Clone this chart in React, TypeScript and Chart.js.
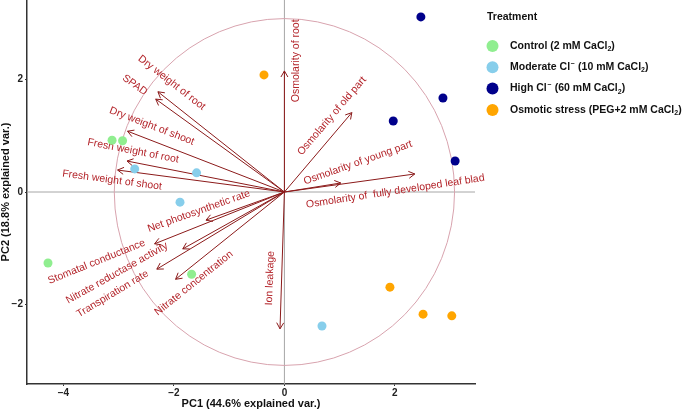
import React, { useEffect, useRef } from "react";
import { Chart, registerables } from "chart.js";

Chart.register(...registerables);

// ---------------- Data ----------------
const treatments = [
  "Control (2 mM CaCl₂)",
  "Moderate Cl⁻ (10 mM CaCl₂)",
  "High Cl⁻ (60 mM CaCl₂)",
  "Osmotic stress (PEG+2 mM CaCl₂)",
];
const treatmentColors = ["#90EE90", "#87CEEB", "#00008B", "#FFA500"];

const controlX = [-3.12, -2.93, -4.28, -1.68];
const controlY = [0.92, 0.91, -1.26, -1.46];
const moderateX = [-2.71, -1.59, -1.89, 0.68];
const moderateY = [0.41, 0.34, -0.18, -2.38];
const highX = [2.47, 2.87, 1.97, 3.09];
const highY = [3.11, 1.67, 1.26, 0.55];
const osmoticX = [-0.37, 1.91, 2.51, 3.03];
const osmoticY = [2.08, -1.69, -2.17, -2.2];

const varNames = [
  "Dry weight of root",
  "SPAD",
  "Dry weight of shoot",
  "Fresh weight of root",
  "Fresh weight of shoot",
  "Net photosynthetic rate",
  "Stomatal conductance",
  "Nitrate reductase activity",
  "Transpiration rate",
  "Nitrate concentration",
  "Ion leakage",
  "Osmolarity of root",
  "Osmolarity of old part",
  "Osmolarity of young part",
  "Osmolarity of  fully developed leaf blade",
];
const varX = [-2.29, -2.33, -2.84, -2.85, -3.02, -1.42, -2.35, -1.84, -2.31, -1.97, -0.08, 0.0, 1.22, 2.36, 1.02];
const varY = [1.78, 1.65, 1.08, 0.55, 0.39, -0.5, -0.92, -1.01, -1.37, -1.55, -2.43, 2.15, 1.41, 0.32, 0.16];

const xTicks = [-4, -2, 0, 2];
const yTicks = [-2, 0, 2];
const xTitle = "PC1 (44.6% explained var.)";
const yTitle = "PC2 (18.8% explained var.)";
const legendTitle = "Treatment";
const circleRadius = 3.08;

// ---------------- Layout (label placement, data units + rotation deg) ----------------
const labelLayout = [
  { x: -2.04, y: 1.94, a: 38 },
  { x: -2.71, y: 1.9, a: 36 },
  { x: -2.4, y: 1.17, a: 21 },
  { x: -2.74, y: 0.73, a: 11 },
  { x: -3.12, y: 0.21, a: 7.5 },
  { x: -1.55, y: -0.34, a: -19.6 },
  { x: -3.4, y: -1.24, a: -21.9 },
  { x: -3.03, y: -1.44, a: -29.3 },
  { x: -3.11, y: -1.81, a: -31 },
  { x: -1.64, y: -1.62, a: -38.7 },
  { x: -0.26, y: -1.53, a: -88 },
  { x: 0.21, y: 2.33, a: -90 },
  { x: 0.86, y: 1.35, a: -49.5 },
  { x: 1.33, y: 0.52, a: -19.5 },
  { x: 2.06, y: 0.02, a: -8.6 },
];

const FONT = "'Liberation Sans', Arial, Helvetica, sans-serif";
const fmt = (v: number) => (v < 0 ? "\u2212" + Math.abs(v) : String(v));

function drawRich(ctx: CanvasRenderingContext2D, text: string, x: number, y: number, size: number) {
  const normal = `bold ${size}px ${FONT}`;
  const small = `bold ${Math.round(size * 0.68)}px ${FONT}`;
  let cx = x;
  let buf = "";
  const flush = () => {
    if (!buf) return;
    ctx.font = normal;
    ctx.fillText(buf, cx, y);
    cx += ctx.measureText(buf).width;
    buf = "";
  };
  for (const ch of text) {
    if (ch === "₂") {
      flush();
      ctx.font = small;
      ctx.fillText("2", cx, y + 3);
      cx += ctx.measureText("2").width;
    } else if (ch === "⁻") {
      flush();
      ctx.font = small;
      ctx.fillText("\u2212", cx + 0.5, y - 3.5);
      cx += ctx.measureText("\u2212").width + 1;
    } else {
      buf += ch;
    }
  }
  flush();
}

const biplotPlugin = {
  id: "biplot",
  beforeDatasetsDraw(chart: any) {
    const { ctx, chartArea, scales } = chart;
    const xs = scales.x;
    const ys = scales.y;
    const x0 = xs.getPixelForValue(0);
    const y0 = ys.getPixelForValue(0);
    ctx.save();
    ctx.beginPath();
    ctx.rect(chartArea.left, chartArea.top, chartArea.right - chartArea.left, chartArea.bottom - chartArea.top);
    ctx.clip();

    // zero lines
    ctx.strokeStyle = "#a6a6a6";
    ctx.lineWidth = 1;
    ctx.beginPath();
    ctx.moveTo(x0, chartArea.top);
    ctx.lineTo(x0, chartArea.bottom);
    ctx.moveTo(chartArea.left, y0);
    ctx.lineTo(chartArea.right, y0);
    ctx.stroke();

    // correlation circle
    const rx = Math.abs(xs.getPixelForValue(circleRadius) - x0);
    const ry = Math.abs(ys.getPixelForValue(circleRadius) - y0);
    ctx.strokeStyle = "#D8A3AE";
    ctx.lineWidth = 1;
    ctx.beginPath();
    ctx.ellipse(x0, y0, rx, ry, 0, 0, Math.PI * 2);
    ctx.stroke();

    // arrows
    ctx.strokeStyle = "#8B1A1A";
    ctx.lineWidth = 1;
    for (let i = 0; i < varX.length; i++) {
      const px = xs.getPixelForValue(varX[i]);
      const py = ys.getPixelForValue(varY[i]);
      const ang = Math.atan2(py - y0, px - x0);
      const L = 7;
      const h = Math.PI / 6;
      ctx.beginPath();
      ctx.moveTo(x0, y0);
      ctx.lineTo(px, py);
      ctx.moveTo(px - L * Math.cos(ang - h), py - L * Math.sin(ang - h));
      ctx.lineTo(px, py);
      ctx.lineTo(px - L * Math.cos(ang + h), py - L * Math.sin(ang + h));
      ctx.stroke();
    }
    ctx.restore();

    // labels (clipped to a slightly wider panel)
    ctx.save();
    ctx.beginPath();
    ctx.rect(chartArea.left, chartArea.top, chartArea.right - chartArea.left + 10, chartArea.bottom - chartArea.top);
    ctx.clip();
    ctx.fillStyle = "#B3242A";
    ctx.font = `10.5px ${FONT}`;
    ctx.textAlign = "center";
    ctx.textBaseline = "middle";
    for (let i = 0; i < varNames.length; i++) {
      const l = labelLayout[i];
      const px = xs.getPixelForValue(l.x);
      const py = ys.getPixelForValue(l.y);
      ctx.save();
      ctx.translate(px, py);
      ctx.rotate((l.a * Math.PI) / 180);
      ctx.fillText(varNames[i], 0, 0);
      ctx.restore();
    }
    ctx.restore();
  },
};

const legendPlugin = {
  id: "customLegend",
  afterDraw(chart: any) {
    const { ctx, chartArea } = chart;
    const lx = chartArea.right + 12;
    ctx.save();
    ctx.fillStyle = "#111";
    ctx.textAlign = "left";
    ctx.textBaseline = "middle";
    ctx.font = `bold 10.5px ${FONT}`;
    ctx.fillText(legendTitle, lx, 17);
    for (let i = 0; i < treatments.length; i++) {
      const y = 46 + i * 21.3;
      ctx.fillStyle = treatmentColors[i];
      ctx.beginPath();
      ctx.arc(lx + 5.5, y, 6, 0, Math.PI * 2);
      ctx.fill();
      ctx.fillStyle = "#111";
      drawRich(ctx, treatments[i], lx + 23, y, 10.5);
    }
    ctx.restore();
  },
};

const groupsX = [controlX, moderateX, highX, osmoticX];
const groupsY = [controlY, moderateY, highY, osmoticY];

export default function App() {
  const ref = useRef<HTMLCanvasElement>(null);
  useEffect(() => {
    document.body.style.margin = "0";
    const canvas = ref.current!;
    const axisColor = "#333";
    const tickFont = { family: FONT, size: 10, weight: "bold" as const };
    const titleFont = { family: FONT, size: 11, weight: "bold" as const, lineHeight: 1.1 };
    const chart = new Chart(canvas, {
      type: "scatter",
      data: {
        datasets: treatments.map((t, i) => ({
          label: t,
          data: groupsX[i].map((x, j) => ({ x, y: groupsY[i][j] })),
          backgroundColor: treatmentColors[i],
          borderWidth: 0,
          pointRadius: 4.5,
          pointHoverRadius: 4.5,
        })),
      },
      options: {
        responsive: false,
        animation: false,
        devicePixelRatio: 1,
        layout: { autoPadding: false, padding: { left: 0, top: 0, right: 210, bottom: 0 } },
        plugins: { legend: { display: false }, tooltip: { enabled: false } },
        scales: {
          x: {
            type: "linear",
            min: -4.66,
            max: 3.45,
            afterBuildTicks: (s: any) => {
              s.ticks = xTicks.map((v) => ({ value: v }));
            },
            afterFit: (s: any) => {
              s.height = 26;
              s.paddingLeft = 0;
              s.paddingRight = 0;
            },
            grid: { display: true, drawOnChartArea: false, drawTicks: true, tickLength: 2, color: axisColor },
            border: { display: true, color: axisColor, width: 1.5 },
            ticks: { font: tickFont, color: "#222", padding: 1, callback: (v: any) => fmt(Number(v)) },
            title: { display: true, text: xTitle, font: titleFont, color: "#111", padding: 0 },
          },
          y: {
            type: "linear",
            min: -3.41,
            max: 3.41,
            afterBuildTicks: (s: any) => {
              s.ticks = yTicks.map((v) => ({ value: v }));
            },
            afterFit: (s: any) => {
              s.width = 27;
              s.paddingTop = 0;
              s.paddingBottom = 0;
            },
            grid: { display: true, drawOnChartArea: false, drawTicks: true, tickLength: 2, color: axisColor },
            border: { display: true, color: axisColor, width: 1.5 },
            ticks: { font: tickFont, color: "#222", padding: 2, callback: (v: any) => fmt(Number(v)) },
            title: { display: true, text: yTitle, font: titleFont, color: "#111", padding: 0 },
          },
        },
      },
      plugins: [biplotPlugin, legendPlugin],
    } as any);
    return () => chart.destroy();
  }, []);
  return (
    <div style={{ width: 685, height: 410 }}>
      <canvas ref={ref} width={685} height={410} style={{ display: "block" }} />
    </div>
  );
}
